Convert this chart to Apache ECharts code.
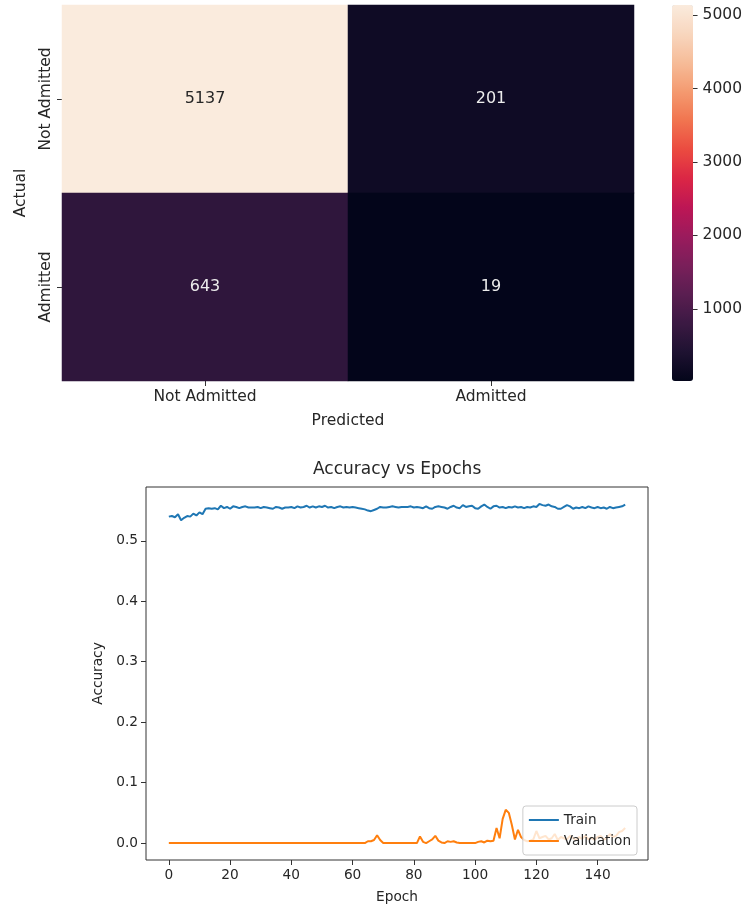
<!DOCTYPE html>
<html>
<head>
<meta charset="utf-8">
<script src="https://cdn.jsdelivr.net/npm/echarts@6/dist/echarts.min.js"></script>
<style>
html,body{margin:0;padding:0;background:#fff;}
#chart{width:745px;height:905px;}
</style>
</head>
<body>
<div id="chart"></div>
<script>
// ---- Confusion matrix data ----
const predictedLabels = ['Not Admitted', 'Admitted'];
const actualLabels = ['Not Admitted', 'Admitted'];
const confusion = [
  [5137, 201],
  [643, 19]
];
const colorbarTicks = [1000, 2000, 3000, 4000, 5000];

// ---- Accuracy vs Epochs data ----
const trainAcc = [
  0.540,0.541,0.539,0.544,0.534,0.538,0.541,0.540,0.545,0.542,
  0.547,0.544,0.553,0.554,0.553,0.554,0.552,0.558,0.554,0.556,
  0.553,0.557,0.556,0.554,0.556,0.557,0.555,0.555,0.555,0.556,
  0.554,0.556,0.555,0.554,0.553,0.556,0.555,0.553,0.555,0.555,
  0.556,0.554,0.557,0.555,0.556,0.558,0.555,0.557,0.555,0.557,
  0.556,0.558,0.555,0.556,0.554,0.556,0.557,0.555,0.556,0.555,
  0.556,0.555,0.554,0.553,0.552,0.550,0.549,0.551,0.553,0.556,
  0.555,0.555,0.556,0.557,0.556,0.555,0.556,0.556,0.556,0.557,
  0.555,0.556,0.555,0.554,0.557,0.554,0.553,0.556,0.557,0.556,
  0.555,0.553,0.556,0.558,0.555,0.554,0.559,0.556,0.557,0.558,
  0.554,0.553,0.557,0.560,0.556,0.553,0.557,0.558,0.555,0.556,
  0.554,0.556,0.555,0.557,0.555,0.556,0.554,0.556,0.555,0.557,
  0.556,0.561,0.559,0.558,0.560,0.557,0.556,0.553,0.553,0.556,
  0.559,0.557,0.553,0.555,0.554,0.556,0.554,0.557,0.555,0.554,
  0.556,0.554,0.555,0.553,0.556,0.554,0.555,0.556,0.557,0.560
];
const valAcc = [
  0,0,0,0,0,0,0,0,0,0,
  0,0,0,0,0,0,0,0,0,0,
  0,0,0,0,0,0,0,0,0,0,
  0,0,0,0,0,0,0,0,0,0,
  0,0,0,0,0,0,0,0,0,0,
  0,0,0,0,0,0,0,0,0,0,
  0,0,0,0,0,0.003,0.003,0.005,0.013,0.005,
  0,0,0,0,0,0,0,0,0,0,
  0,0,0.011,0.002,0,0.003,0.006,0.012,0.004,0.001,
  0,0.003,0.002,0.003,0.001,0,0,0,0,0,
  0,0.002,0.003,0.001,0.004,0.003,0.004,0.025,0.008,0.040,
  0.055,0.050,0.030,0.006,0.022,0.010,0.005,0.003,0.004,0.006,
  0.020,0.008,0.010,0.012,0.006,0.008,0.015,0.005,0.010,0.008,
  0.006,0.012,0.008,0.005,0.010,0.007,0.012,0.006,0.009,0.005,
  0.010,0.012,0.006,0.008,0.015,0.010,0.012,0.018,0.020,0.025
];
const epochTicks = [0, 20, 40, 60, 80, 100, 120, 140];
const accTicks = [0, 0.1, 0.2, 0.3, 0.4, 0.5];

const rocket = ['#03051A','#1E1231','#3B1943','#5A1E51','#7A1F5A','#9B1B5D','#BD1655','#DB2645','#EB4B40','#F1744F','#F49A70','#F6BC98','#F8D6BE','#FAEBDD'];

const FONT = 'DejaVu Sans';
const TXT = '#262626';

const heatData = [];
for (let r = 0; r < actualLabels.length; r++) {
  for (let c = 0; c < predictedLabels.length; c++) {
    heatData.push([c, r, confusion[r][c]]);
  }
}
const vMin = Math.min(...confusion.flat());
const vMax = Math.max(...confusion.flat());

const trainData = trainAcc.map((v, i) => [i, v]);
const valData = valAcc.map((v, i) => [i, v]);

const chart = echarts.init(document.getElementById('chart'), null, {renderer: 'canvas'});
chart.setOption({
  animation: false,
  backgroundColor: '#fff',
  textStyle: {fontFamily: FONT, color: TXT},
  title: {
    text: 'Accuracy vs Epochs',
    left: 313, top: 461,
    padding: 0,
    textStyle: {fontFamily: FONT, fontSize: 17, fontWeight: 'normal', color: TXT}
  },
  legend: {
    data: [{name: 'Train', icon: 'rect'}, {name: 'Validation', icon: 'rect'}],
    orient: 'vertical',
    right: 108, top: 806,
    itemWidth: 30, itemHeight: 2, itemGap: 7,
    padding: [7, 6, 7, 6],
    backgroundColor: 'rgba(255,255,255,0.8)',
    borderColor: '#cccccc', borderWidth: 1, borderRadius: 3,
    textStyle: {fontFamily: FONT, fontSize: 13.6, color: TXT, lineHeight: 14},
    z: 10
  },
  visualMap: {
    type: 'continuous',
    seriesIndex: 0,
    min: vMin, max: vMax,
    calculable: false,
    left: 672, top: 5,
    itemWidth: 21, itemHeight: 376,
    padding: 0,
    text: null,
    showLabel: false,
    inRange: {color: rocket}
  },
  grid: [
    {left: 62, top: 5, width: 572, height: 376, show: false},
    {left: 146, top: 487, width: 502, height: 373, show: true, borderColor: '#333', borderWidth: 1, backgroundColor: 'transparent'},
    {left: 672, top: 5, width: 21, height: 376, show: false}
  ],
  xAxis: [
    {
      gridIndex: 0, type: 'category', data: predictedLabels,
      name: 'Predicted', nameLocation: 'middle', nameGap: 32,
      nameTextStyle: {fontFamily: FONT, fontSize: 15.5, color: TXT},
      axisLine: {show: false, onZero: false},
      axisTick: {show: true, alignWithLabel: true, length: 5, lineStyle: {color: '#333'}},
      axisLabel: {fontFamily: FONT, fontSize: 15.5, color: TXT, margin: 8},
      splitLine: {show: false}
    },
    {
      gridIndex: 1, type: 'value', min: -7.45, max: 156.45,
      name: 'Epoch', nameLocation: 'middle', nameGap: 30,
      nameTextStyle: {fontFamily: FONT, fontSize: 13.7, color: TXT},
      axisLine: {show: false, onZero: false},
      axisTick: {show: true, length: 5, lineStyle: {color: '#333'}, customValues: epochTicks},
      axisLabel: {fontFamily: FONT, fontSize: 13.7, color: TXT, margin: 8, customValues: epochTicks},
      splitLine: {show: false}
    },
    {
      gridIndex: 2, type: 'value', min: 0, max: 1, show: false
    }
  ],
  yAxis: [
    {
      gridIndex: 0, type: 'category', data: actualLabels, inverse: true,
      name: 'Actual', nameLocation: 'middle', nameGap: 33,
      nameRotate: 90,
      nameTextStyle: {fontFamily: FONT, fontSize: 15.5, color: TXT},
      axisLine: {show: false, onZero: false},
      axisTick: {show: true, alignWithLabel: true, length: 5, lineStyle: {color: '#333'}},
      axisLabel: {fontFamily: FONT, fontSize: 15.5, color: TXT, rotate: 90, margin: 8},
      splitLine: {show: false}
    },
    {
      gridIndex: 1, type: 'value', min: -0.028, max: 0.589,
      name: 'Accuracy', nameLocation: 'middle', nameGap: 40,
      nameTextStyle: {fontFamily: FONT, fontSize: 13.7, color: TXT},
      axisLine: {show: false, onZero: false},
      axisTick: {show: true, length: 5, lineStyle: {color: '#333'}, customValues: accTicks},
      axisLabel: {fontFamily: FONT, fontSize: 13.7, color: TXT, margin: 8, customValues: accTicks,
        formatter: v => v.toFixed(1)},
      splitLine: {show: false}
    },
    {
      gridIndex: 2, type: 'value', position: 'right', min: vMin, max: vMax,
      axisLine: {show: false, onZero: false},
      axisTick: {show: true, length: 5, lineStyle: {color: '#333'}, customValues: colorbarTicks},
      axisLabel: {fontFamily: FONT, fontSize: 15.5, color: TXT, margin: 10, customValues: colorbarTicks,
        formatter: v => String(Math.round(v))},
      splitLine: {show: false}
    }
  ],
  series: [
    {
      type: 'heatmap', xAxisIndex: 0, yAxisIndex: 0,
      data: heatData.map(d => ({
        value: d,
        label: {color: d[2] > (vMin + vMax) / 2 ? TXT : '#ececec'}
      })),
      label: {
        show: true, fontFamily: FONT, fontSize: 16,
        formatter: p => String(p.value[2])
      },
      itemStyle: {borderWidth: 0},
      emphasis: {disabled: true}
    },
    {
      name: 'Train', type: 'line', xAxisIndex: 1, yAxisIndex: 1,
      data: trainData, showSymbol: false, symbol: 'none',
      lineStyle: {width: 2, color: '#1f77b4'}, itemStyle: {color: '#1f77b4'},
      z: 2
    },
    {
      name: 'Validation', type: 'line', xAxisIndex: 1, yAxisIndex: 1,
      data: valData, showSymbol: false, symbol: 'none',
      lineStyle: {width: 2, color: '#ff7f0e'}, itemStyle: {color: '#ff7f0e'},
      z: 3
    },
    {
      type: 'line', xAxisIndex: 2, yAxisIndex: 2, data: [], silent: true
    }
  ]
});
</script>
</body>
</html>
